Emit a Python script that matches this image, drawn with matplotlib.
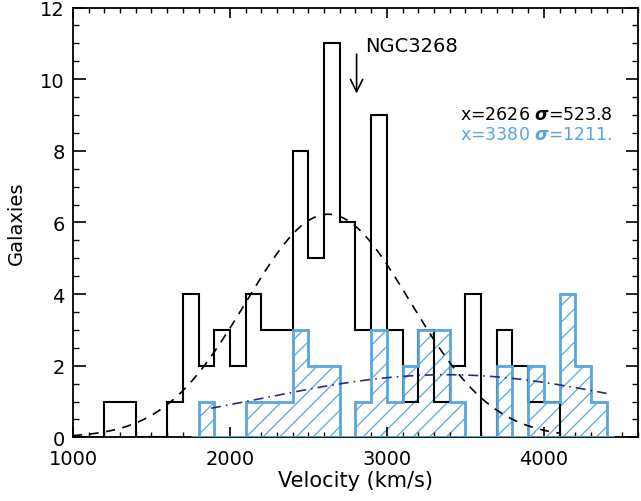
import numpy as np
import matplotlib
matplotlib.use("Agg")
import matplotlib.pyplot as plt
from matplotlib.ticker import MultipleLocator

# ---- data ----
bin_width = 100
black_start = 1000
black_counts = [0, 0, 1, 1, 0, 0, 1, 4, 2, 3, 2, 4, 3, 3, 8, 5, 11, 6, 3, 9,
                3, 1, 3, 1, 2, 4, 0, 3, 2, 1, 1, 0]
blue_start = 1800
blue_counts = [1, 0, 0, 1, 1, 1, 3, 2, 2, 0, 1, 3, 1, 2, 3, 3, 1, 0, 0, 2,
               0, 2, 1, 4, 2, 1]

# Gaussian fits (mean, sigma, peak height, plotted range)
black_mean, black_sigma, black_peak = 2626, 523.8, 6.23
black_range = (1000, 4100)
blue_mean, blue_sigma, blue_peak = 3380, 1211.0, 1.75
blue_range = (1880, 4400)

label_black = r"x=2626 $\mathbfit{\sigma}$=523.8"
label_blue = r"x=3380 $\mathbfit{\sigma}$=1211."
annot_text = "NGC3268"
annot_x = 2807
annot_y_tail, annot_y_head = 10.7, 9.6

xticks = [1000, 2000, 3000, 4000]
yticks = [0, 2, 4, 6, 8, 10, 12]

BLUE = "#58a6dc"
NAVY = "#2b2b7c"

plt.rcParams["font.family"] = ["DejaVu Sans"]
plt.rcParams["hatch.linewidth"] = 0.9

fig = plt.figure(figsize=(6.41, 5.02), dpi=100)
ax = fig.add_axes([0.1139, 0.1267, 0.9953 - 0.1139, 0.983 - 0.1267])

black_edges = black_start + bin_width * np.arange(len(black_counts) + 1)
blue_edges = blue_start + bin_width * np.arange(len(blue_counts) + 1)

# blue hatched fill
ax.stairs(blue_counts, blue_edges, fill=True, facecolor="none",
          edgecolor=BLUE, hatch="//", linewidth=0, zorder=1)
# black histogram
ax.stairs(black_counts, black_edges, color="black", linewidth=1.5,
          baseline=0, zorder=2)
# blue outline
ax.stairs(blue_counts, blue_edges, color=BLUE, linewidth=2.0,
          baseline=0, zorder=3)
ax.plot([blue_edges[0] - bin_width / 2, blue_edges[-1] + bin_width / 2],
        [0, 0], color=BLUE, linewidth=2.0, zorder=3, solid_capstyle="butt")

# gaussians
xb = np.linspace(*black_range, 300)
ax.plot(xb, black_peak * np.exp(-(xb - black_mean) ** 2 / (2 * black_sigma ** 2)),
        color="black", linewidth=1.2, linestyle=(0, (5.5, 4.5)), zorder=4)
xl = np.linspace(*blue_range, 300)
ax.plot(xl, blue_peak * np.exp(-(xl - blue_mean) ** 2 / (2 * blue_sigma ** 2)),
        color=NAVY, linewidth=1.2, linestyle=(0, (6, 3, 1, 3)), zorder=4)

# annotation
ax.annotate("", xy=(annot_x, annot_y_head), xytext=(annot_x, annot_y_tail),
            arrowprops=dict(arrowstyle="->", color="black", lw=1.2,
                            mutation_scale=22, shrinkA=0, shrinkB=0))
ax.text(annot_x + 55, 10.93, annot_text, fontsize=14, ha="left", va="center")

ax.text(3465, 9.02, label_black, fontsize=12.5, color="black", ha="left", va="center")
ax.text(3465, 8.48, label_blue, fontsize=12.5, color=BLUE, ha="left", va="center")

ax.set_xlim(1000, 4600)
ax.set_ylim(0, 12)
ax.set_xticks(xticks)
ax.set_yticks(yticks)
ax.xaxis.set_minor_locator(MultipleLocator(100))
ax.yaxis.set_minor_locator(MultipleLocator(0.5))
ax.tick_params(axis="x", which="major", direction="in", length=7, width=1.2,
               top=True, labelsize=14, pad=8)
ax.tick_params(axis="x", which="minor", direction="in", length=3.3, width=1.0, top=True)
ax.tick_params(axis="y", which="major", direction="in", length=9, width=1.2,
               right=True, labelsize=14, pad=6)
ax.tick_params(axis="y", which="minor", direction="in", length=4.5, width=1.0, right=True)
for s in ax.spines.values():
    s.set_linewidth(1.3)

ax.set_xlabel("Velocity (km/s)", fontsize=15, labelpad=2)
ax.set_ylabel("Galaxies", fontsize=14, labelpad=10)

fig.savefig("out.png", dpi=100)
